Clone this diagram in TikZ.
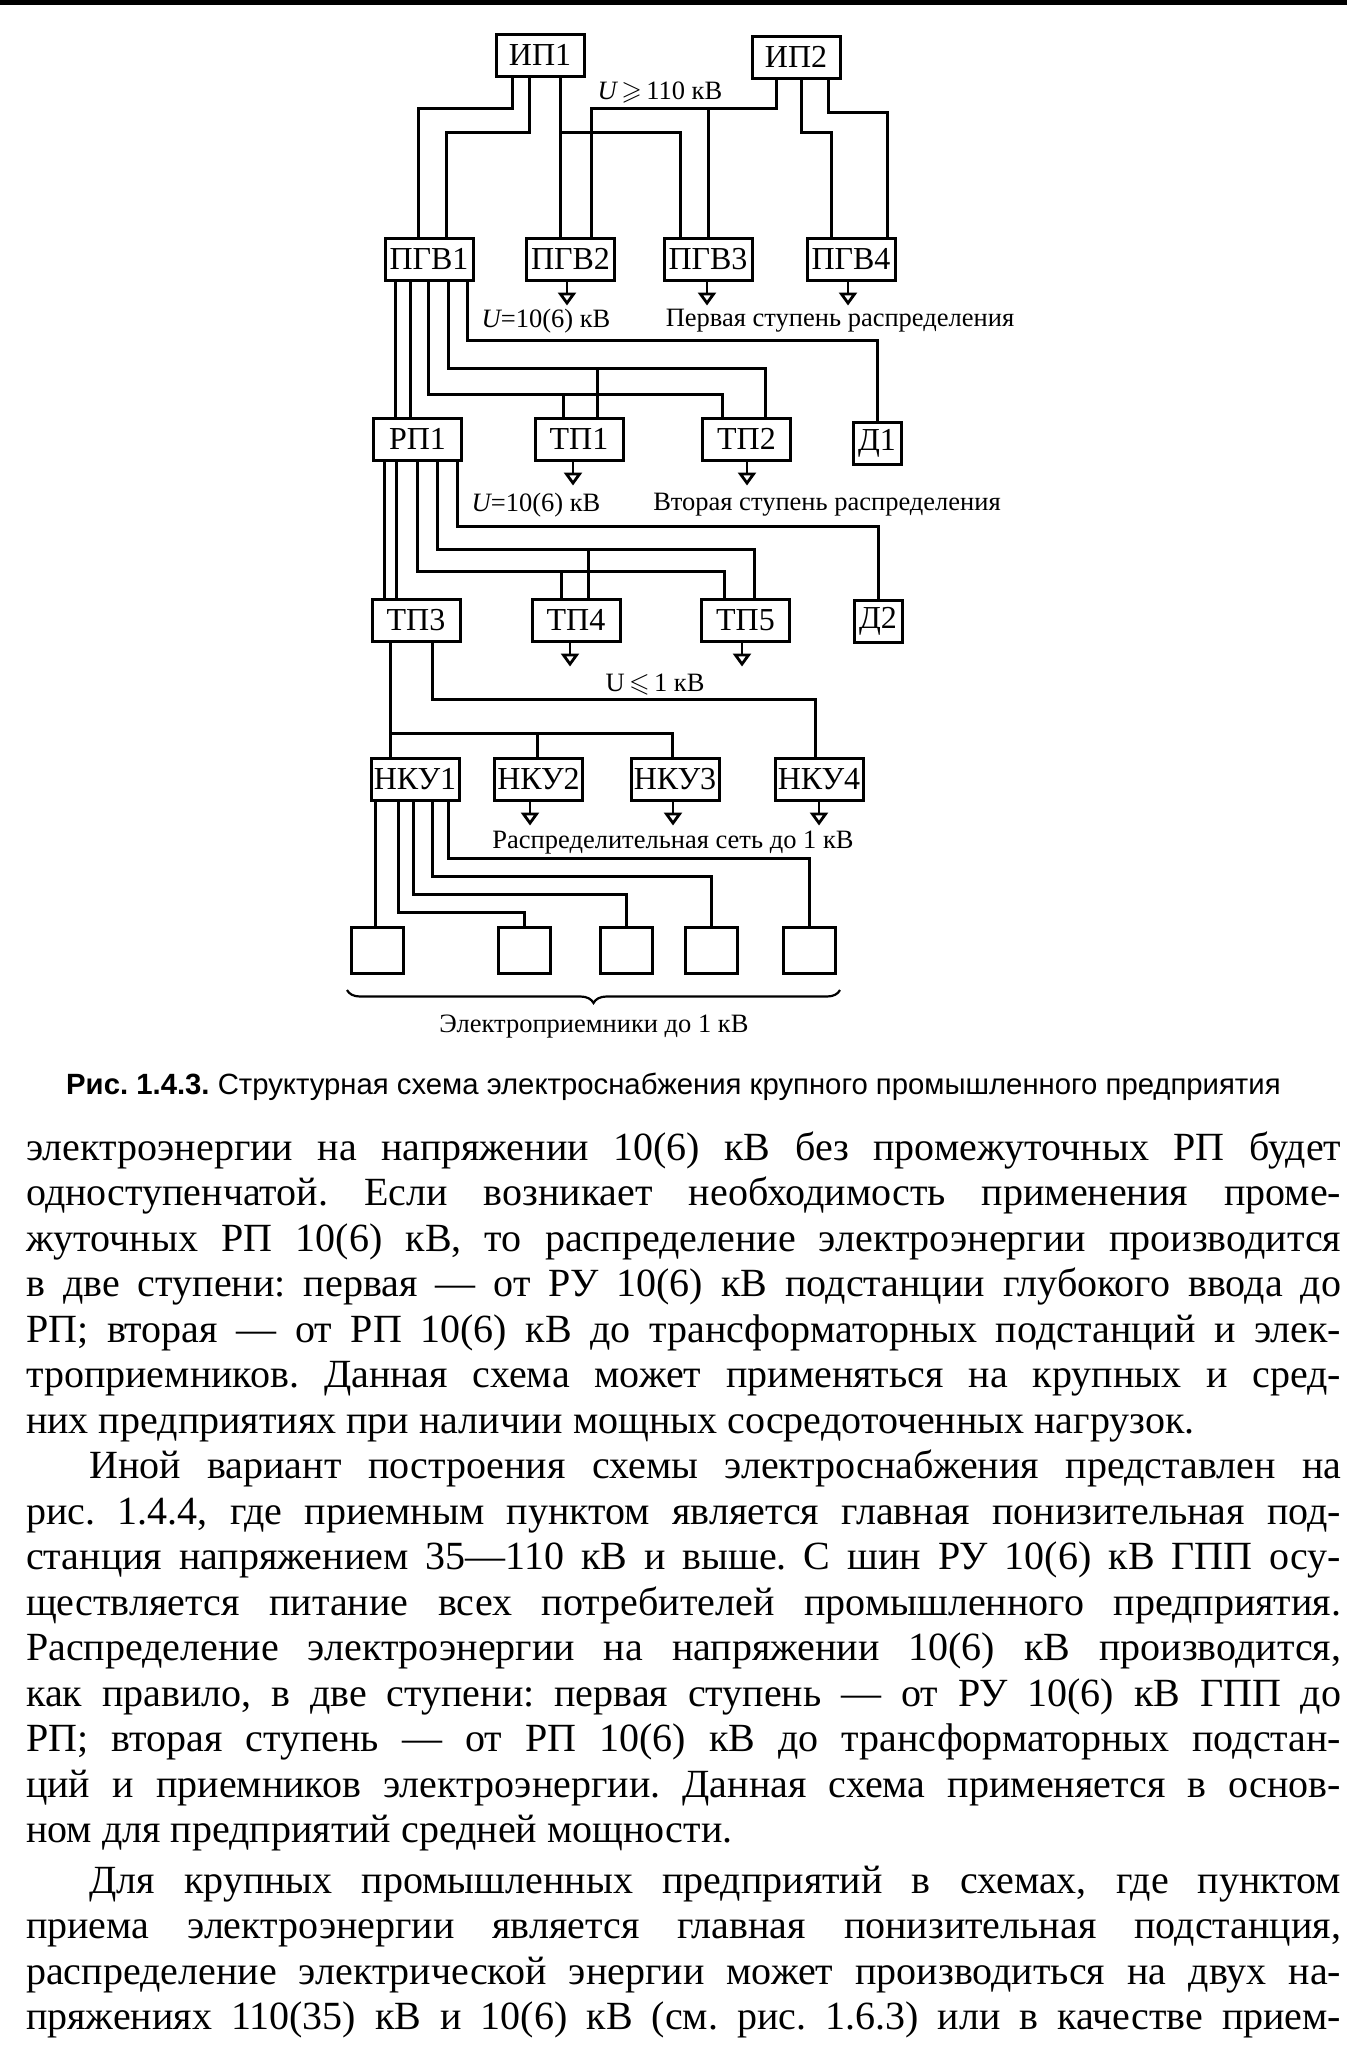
\documentclass[tikz,border=0pt]{standalone}
\usepackage{amssymb}
\usepackage{fontspec}
\setmainfont{Liberation Serif}
\newfontfamily\capfont{Liberation Sans}
\usetikzlibrary{arrows.meta,decorations.pathreplacing}

\newcommand\fullline[4]{\node[body] (#1) at (#2,#3) {\makebox[\dimexpr1341pt-#2pt\relax][s]{#4}};}
\newcommand\freeline[4]{\node[body] (#1) at (#2,#3) {#4};}

\begin{document}
\frenchspacing
\begin{tikzpicture}[x=1pt,y=-1pt,
  blk/.style={draw, line width=3pt, inner sep=0pt, minimum width=88pt, minimum height=42pt,
              font=\fontsize{32}{32}\selectfont},
  dbox/.style={blk, minimum width=48pt, minimum height=42pt},
  ebox/.style={draw, line width=3pt, inner sep=0pt, minimum width=52pt, minimum height=46pt},
  wire/.style={line width=3pt},
  feed/.style={line width=2.8pt, -{Triangle[open,length=13pt,width=18pt]}},
  note/.style={inner sep=0pt, font=\fontsize{26.5}{26.5}\selectfont},
  body/.style={anchor=base west, inner sep=0pt, font=\fontsize{40}{46}\selectfont},
  capt/.style={anchor=base west, inner sep=0pt, font=\capfont\fontsize{29.3}{30}\selectfont}
]
\useasboundingbox (0,0) rectangle (1347,2045);
\fill[white] (0,0) rectangle (1347,2045);
\fill[black] (0,0) rectangle (1347,5);

% ---------- boxes ----------
\node[blk] (ip1) at (540,55) {ИП1};
\node[blk] (ip2) at (796,57) {ИП2};
\node[blk] (pgv1) at (429,259) {ПГВ1};
\node[blk] (pgv2) at (570.5,259) {ПГВ2};
\node[blk] (pgv3) at (708,259) {ПГВ3};
\node[blk] (pgv4) at (851,259) {ПГВ4};
\node[blk] (rp1) at (417.5,439) {РП1};
\node[blk] (tp1) at (579,439) {ТП1};
\node[blk] (tp2) at (746.5,439) {ТП2};
\node[dbox] (d1) at (877,443) {Д1};
\node[blk] (tp3) at (416,620) {ТП3};
\node[blk] (tp4) at (576,620) {ТП4};
\node[blk] (tp5) at (745.5,620) {ТП5};
\node[dbox] (d2) at (878,621) {Д2};
\node[blk] (nku1) at (415,779) {НКУ1};
\node[blk] (nku2) at (538.5,779) {НКУ2};
\node[blk] (nku3) at (675,779) {НКУ3};
\node[blk] (nku4) at (819,779) {НКУ4};
\node[ebox] (e1) at (377,950) {};
\node[ebox] (e2) at (524,950) {};
\node[ebox] (e3) at (626,950) {};
\node[ebox] (e4) at (711,950) {};
\node[ebox] (e5) at (809,950) {};

% ---------- sources to ПГВ ----------
\draw[wire] (ip1.south -| 512,0) -- ++(0,30.5) -| (pgv1.north -| 418,0);
\draw[wire] (ip1.south -| 529,0) -- ++(0,54.5) -| (pgv1.north -| 446,0);
\draw[wire] (ip1.south -| 560,0) -- (pgv2.north -| 560,0);
\draw[wire] (ip1.south -| 560,0) ++(0,54.5) -| (pgv3.north -| 680,0);
\draw[wire] (ip2.south -| 776,0) -- ++(0,28.5) -| (pgv2.north -| 591,0);
\draw[wire] (ip2.south -| 776,0) ++(0,28.5) -| (pgv3.north -| 708,0);
\draw[wire] (ip2.south -| 801,0) -- ++(0,52.5) -| (pgv4.north -| 831,0);
\draw[wire] (ip2.south -| 828,0) -- ++(0,32.5) -| (pgv4.north -| 887,0);
\node[note] (u110) at (660,92) {\itshape U\,$\geqslant$\,\upshape 110 кВ};

% ---------- first level ----------
\draw[feed] (pgv2.south -| 567,0) -- ++(0,24);
\draw[feed] (pgv3.south -| 707,0) -- ++(0,24);
\draw[feed] (pgv4.south -| 848,0) -- ++(0,24);
\node[note] (u1) at (546,321) {\itshape U\upshape =10(6) кВ};
\node[note] (st1) at (840,321) {Первая ступень распределения};

\draw[wire] (pgv1.south -| 395,0) -- (rp1.north -| 395,0);
\draw[wire] (pgv1.south -| 410,0) -- (rp1.north -| 410,0);
\draw[wire] (pgv1.south -| 428,0) -- ++(0,112.5) -| (tp2.north -| 722,0);
\draw[wire] (pgv1.south -| 428,0) ++(0,112.5) -| (tp1.north -| 563,0);
\draw[wire] (pgv1.south -| 448,0) -- ++(0,86.5) -| (tp2.north -| 765,0);
\draw[wire] (pgv1.south -| 448,0) ++(0,86.5) -| (tp1.north -| 597,0);
\draw[wire] (pgv1.south -| 467,0) -- ++(0,58.5) -| (d1.north);

% ---------- second level ----------
\draw[feed] (tp1.south -| 573,0) -- ++(0,24);
\draw[feed] (tp2.south -| 747,0) -- ++(0,24);
\node[note] (u2) at (536,505) {\itshape U\upshape =10(6) кВ};
\node[note] (st2) at (827,505) {Вторая ступень распределения};

\draw[wire] (rp1.south -| 384,0) -- (tp3.north -| 384,0);
\draw[wire] (rp1.south -| 396,0) -- (tp3.north -| 396,0);
\draw[wire] (rp1.south -| 417,0) -- ++(0,109.5) -| (tp5.north -| 724,0);
\draw[wire] (rp1.south -| 417,0) ++(0,109.5) -| (tp4.north -| 561,0);
\draw[wire] (rp1.south -| 437,0) -- ++(0,87.5) -| (tp5.north -| 754,0);
\draw[wire] (rp1.south -| 437,0) ++(0,87.5) -| (tp4.north -| 588,0);
\draw[wire] (rp1.south -| 457,0) -- ++(0,64.5) -| (d2.north);

% ---------- third level ----------
\draw[feed] (tp4.south -| 570,0) -- ++(0,24);
\draw[feed] (tp5.south -| 742,0) -- ++(0,24);
\node[note] (u3) at (655,685) {U\,$\leqslant$\,1 кВ};

\draw[wire] (tp3.south -| 390,0) -- (nku1.north -| 390,0);
\draw[wire] (tp3.south -| 390,0) ++(0,90.5) -| (nku3.north -| 672,0);
\draw[wire] (tp3.south -| 390,0) ++(0,90.5) -| (nku2.north -| 537,0);
\draw[wire] (tp3.south -| 432,0) -- ++(0,56.5) -| (nku4.north -| 815,0);

% ---------- low voltage ----------
\draw[feed] (nku2.south -| 530,0) -- ++(0,24);
\draw[feed] (nku3.south -| 673,0) -- ++(0,24);
\draw[feed] (nku4.south -| 819,0) -- ++(0,24);
\node[note] (lv) at (673,843) {Распределительная сеть до 1 кВ};

\draw[wire] (nku1.south -| 375,0) -- (e1.north -| 375,0);
\draw[wire] (nku1.south -| 398,0) -- ++(0,110.5) -| (e2.north);
\draw[wire] (nku1.south -| 413,0) -- ++(0,92.5) -| (e3.north);
\draw[wire] (nku1.south -| 432,0) -- ++(0,74.5) -| (e4.north);
\draw[wire] (nku1.south -| 448,0) -- ++(0,56.5) -| (e5.north);

\coordinate (brL) at (347,990);
\coordinate (brR) at (840,990);
\draw[line width=2.2pt, decorate, decoration={brace, mirror, amplitude=13pt}] (brL) -- (brR);
\node[note] (ep) at (594,1027) {Электроприемники до 1 кВ};

% ---------- caption ----------
\node[capt] (cap) at (66,1094) {\textbf{Рис. 1.4.3.} Структурная схема электроснабжения крупного промышленного предприятия};

% ---------- body text ----------
\fullline{l1}{26}{1160}{электроэнергии на напряжении 10(6) кВ без промежуточных РП будет}
\fullline{l2}{26}{1205.5}{одноступенчатой. Если возникает необходимость применения проме-}
\fullline{l3}{26}{1251}{жуточных РП 10(6) кВ, то распределение электроэнергии производится}
\fullline{l4}{26}{1296.5}{в две ступени: первая — от РУ 10(6) кВ подстанции глубокого ввода до}
\fullline{l5}{26}{1342}{РП; вторая — от РП 10(6) кВ до трансформаторных подстанций и элек-}
\fullline{l6}{26}{1387.5}{троприемников. Данная схема может применяться на крупных и сред-}
\freeline{l7}{26}{1433}{них предприятиях при наличии мощных сосредоточенных нагрузок.}
\fullline{l8}{89}{1478.5}{Иной вариант построения схемы электроснабжения представлен на}
\fullline{l9}{26}{1524}{рис. 1.4.4, где приемным пунктом является главная понизительная под-}
\fullline{l10}{26}{1569.5}{станция напряжением 35—110 кВ и выше. С шин РУ 10(6) кВ ГПП осу-}
\fullline{l11}{26}{1615}{ществляется питание всех потребителей промышленного предприятия.}
\fullline{l12}{26}{1660.5}{Распределение электроэнергии на напряжении 10(6) кВ производится,}
\fullline{l13}{26}{1706}{как правило, в две ступени: первая ступень — от РУ 10(6) кВ ГПП до}
\fullline{l14}{26}{1751.5}{РП; вторая ступень — от РП 10(6) кВ до трансформаторных подстан-}
\fullline{l15}{26}{1797}{ций и приемников электроэнергии. Данная схема применяется в основ-}
\freeline{l16}{26}{1842.5}{ном для предприятий средней мощности.}
\fullline{l17}{89}{1893}{Для крупных промышленных предприятий в схемах, где пунктом}
\fullline{l18}{26}{1938.5}{приема электроэнергии является главная понизительная подстанция,}
\fullline{l19}{26}{1984}{распределение электрической энергии может производиться на двух на-}
\fullline{l20}{26}{2029.5}{пряжениях 110(35) кВ и 10(6) кВ (см. рис. 1.6.3) или в качестве прием-}
\end{tikzpicture}
\end{document}
